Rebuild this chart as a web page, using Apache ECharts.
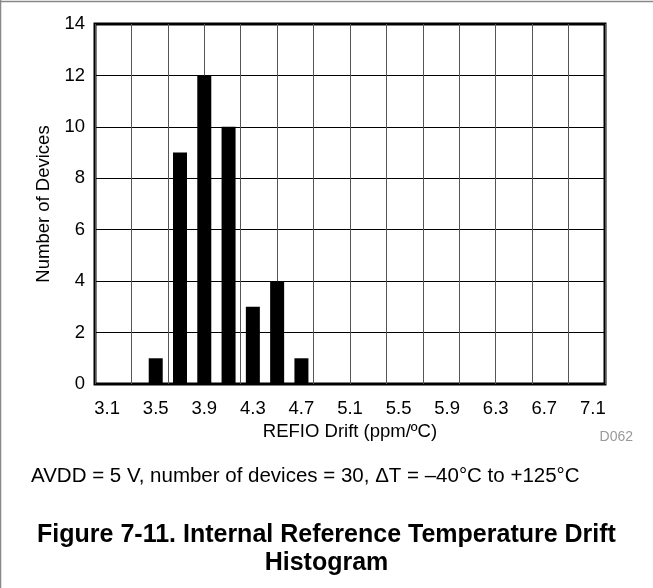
<!DOCTYPE html>
<html>
<head>
<meta charset="utf-8">
<script src="https://cdn.jsdelivr.net/npm/echarts@6/dist/echarts.min.js"></script>
<style>html,body{margin:0;padding:0;background:#fff;}#c{width:653px;height:588px;}</style>
</head>
<body>
<div id="c"></div>
<script>
// Histogram bin centres (ppm/ºC) and counts
var binCenters = [3.1, 3.3, 3.5, 3.7, 3.9, 4.1, 4.3, 4.5, 4.7, 4.9, 5.1];
var deviceCounts = [0, 0, 1, 9, 12, 10, 3, 4, 1, 0, 0];
// Tick labels shown under the x axis
var xTickLabels = ['3.1', '3.5', '3.9', '4.3', '4.7', '5.1', '5.5', '5.9', '6.3', '6.7', '7.1'];
var yTickValues = [0, 2, 4, 6, 8, 10, 12, 14];

var FONT = '"Liberation Sans", Arial, Helvetica, sans-serif';
var chart = echarts.init(document.getElementById('c'), null, {renderer: 'canvas'});
var barData = binCenters.map(function (x, i) { return [x, deviceCounts[i]]; });

chart.setOption({
  animation: false,
  backgroundColor: '#fff',
  grid: {left: 95, right: 48, top: 24, bottom: 204, show: true, borderColor: '#000', borderWidth: 3, backgroundColor: 'transparent'},
  xAxis: [{
    type: 'value', min: 3.0, max: 7.2, interval: 0.3, position: 'bottom',
    axisLine: {show: false}, axisTick: {show: false}, axisLabel: {show: false},
    splitLine: {show: true, lineStyle: {color: '#555', width: 1}}
  }, {
    type: 'value', min: 3.0, max: 7.2, interval: 0.1, position: 'bottom',
    axisLine: {show: false}, axisTick: {show: false}, splitLine: {show: false},
    axisLabel: {
      interval: 0, margin: 15, color: '#000', fontFamily: FONT, fontSize: 18.5,
      formatter: function (v) {
        var s = (Math.round(v * 10) / 10).toFixed(1);
        return xTickLabels.indexOf(s) >= 0 ? s : '';
      }
    },
    name: 'REFIO Drift (ppm/ºC)', nameLocation: 'middle', nameGap: 29,
    nameTextStyle: {color: '#000', fontFamily: FONT, fontSize: 18.5}
  }],
  yAxis: {
    type: 'value', min: yTickValues[0], max: yTickValues[yTickValues.length - 1], interval: 2,
    axisLine: {show: false}, axisTick: {show: false},
    axisLabel: {margin: 10, color: '#000', fontFamily: FONT, fontSize: 18.5},
    splitLine: {show: true, lineStyle: {color: '#000', width: 1}},
    name: 'Number of Devices', nameLocation: 'middle', nameGap: 42,
    nameTextStyle: {color: '#000', fontFamily: FONT, fontSize: 18.5}
  },
  series: [{
    type: 'bar', xAxisIndex: 0, data: barData, barWidth: 14,
    itemStyle: {color: '#000'}
  }],
  title: [{
    text: 'AVDD = 5 V, number of devices = 30, ΔT = –40°C to +125°C',
    left: 26, top: 461,
    textStyle: {color: '#000', fontFamily: FONT, fontSize: 20.5, fontWeight: 'normal', lineHeight: 21}
  }, {
    text: 'Figure 7-11. Internal Reference Temperature Drift\nHistogram',
    left: 'center', top: 516,
    textStyle: {color: '#000', fontFamily: FONT, fontSize: 25, fontWeight: 'bold', lineHeight: 28, align: 'center'}
  }],
  graphic: [
    {type: 'text', right: 20, top: 430, style: {text: 'D062', fill: '#999', font: '14px ' + FONT}},
    {type: 'line', shape: {x1: 0.5, y1: 0, x2: 0.5, y2: 588}, style: {stroke: '#888', lineWidth: 1.5}},
    {type: 'line', shape: {x1: 0, y1: 1.5, x2: 653, y2: 1.5}, style: {stroke: '#888', lineWidth: 1.5}}
  ]
});
</script>
</body>
</html>
